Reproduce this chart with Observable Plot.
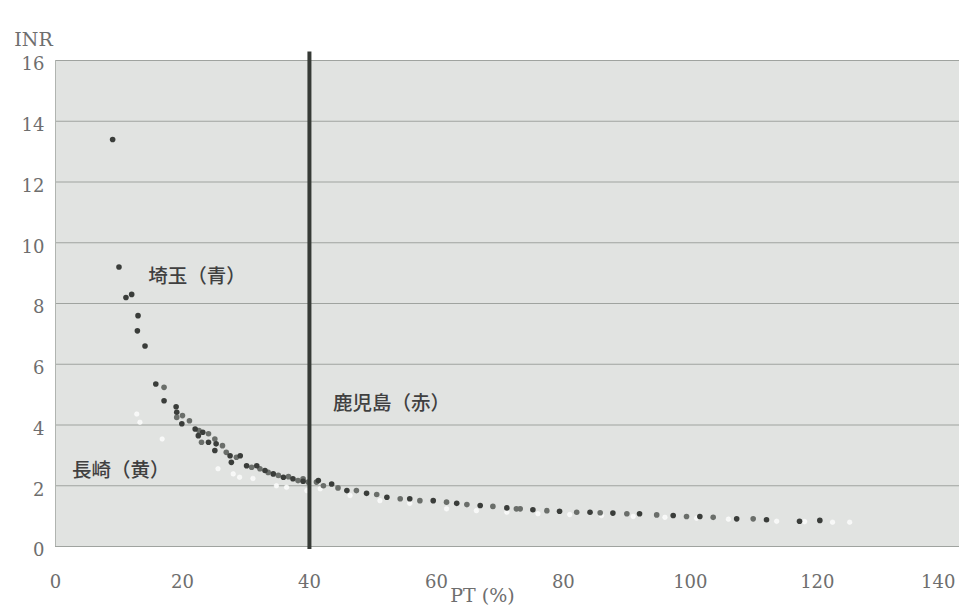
<!DOCTYPE html>
<html>
<head>
<meta charset="utf-8">
<script src="https://cdn.jsdelivr.net/npm/d3@7"></script>
<script src="https://cdn.jsdelivr.net/npm/@observablehq/plot@0.6"></script>
<style>
  html, body { margin: 0; padding: 0; background: #ffffff; }
  #chart { width: 959px; height: 608px; }
</style>
</head>
<body>
<div id="chart"></div>
<script>
// ---- Data ----
const xTicks = [0, 20, 40, 60, 80, 100, 120, 140];
const yTicks = [0, 2, 4, 6, 8, 10, 12, 14, 16];
const cutoffPT = [40];

const seriesNames = ["埼玉（青）", "鹿児島（赤）", "長崎（黄）"];

// 埼玉 (blue) – darkest points
const ptSaitama  = [9.0, 10.0, 11.1, 12.0, 12.9, 13.0, 14.1, 15.8, 17.1, 19.0, 19.1, 19.9, 22.0, 22.5, 23.2, 24.1, 25.1, 25.3, 27.5, 27.7, 29.1, 30.1, 31.7, 33.0, 34.3, 35.9, 37.4, 39.0, 41.4, 43.5, 45.9, 49.0, 52.2, 55.8, 59.5, 63.2, 66.9, 71.1, 75.2, 79.4, 84.2, 87.8, 92.0, 97.3, 101.5, 107.3, 112.0, 117.2, 120.4];
const inrSaitama = [13.4, 9.2, 8.2, 8.3, 7.1, 7.6, 6.6, 5.35, 4.8, 4.6, 4.42, 4.04, 3.87, 3.65, 3.76, 3.43, 3.16, 3.38, 2.99, 2.77, 2.99, 2.66, 2.66, 2.5, 2.39, 2.28, 2.23, 2.15, 2.17, 2.06, 1.84, 1.75, 1.62, 1.57, 1.51, 1.42, 1.35, 1.27, 1.21, 1.16, 1.13, 1.10, 1.08, 1.02, 0.99, 0.91, 0.88, 0.83, 0.86];

// 鹿児島 (red) – mid-grey points
const ptKagoshima  = [17.1, 19.1, 20.0, 21.1, 22.6, 23.0, 24.1, 25.1, 26.3, 26.9, 28.5, 30.9, 32.2, 33.5, 35.1, 36.7, 38.2, 39.0, 39.8, 41.1, 42.2, 44.5, 47.4, 50.6, 54.3, 57.4, 61.6, 64.8, 68.9, 72.6, 73.2, 77.4, 82.1, 85.8, 90.0, 94.7, 99.4, 103.6, 109.9];
const inrKagoshima = [5.24, 4.25, 4.31, 4.14, 3.82, 3.43, 3.71, 3.54, 3.32, 3.10, 2.94, 2.61, 2.56, 2.44, 2.34, 2.30, 2.17, 2.23, 2.12, 2.12, 2.0, 1.93, 1.84, 1.71, 1.57, 1.51, 1.46, 1.38, 1.32, 1.24, 1.24, 1.18, 1.13, 1.11, 1.08, 1.04, 0.99, 0.96, 0.91];

// 長崎 (yellow) – near-white points
const ptNagasaki  = [12.8, 13.3, 16.8, 25.6, 28.0, 29.0, 31.1, 34.8, 36.4, 39.6, 41.7, 46.4, 51.1, 55.8, 61.6, 66.3, 71.1, 76.0, 81.0, 86.0, 91.0, 96.0, 101.0, 106.0, 113.6, 118.0, 122.4, 125.1];
const inrNagasaki = [4.36, 4.09, 3.54, 2.56, 2.39, 2.28, 2.24, 2.0, 1.95, 1.84, 1.90, 1.68, 1.51, 1.42, 1.24, 1.18, 1.13, 1.08, 1.05, 1.02, 0.99, 0.96, 0.93, 0.90, 0.83, 0.82, 0.80, 0.80];

// label anchor values (PT, INR) for the in-chart series labels
const labelPT  = [14.6, 43.7, 2.6];
const labelINR = [8.88, 4.70, 2.50];

// ---- Build tables ----
const toRows = (xs, ys, s) => xs.map((x, i) => ({ pt: x, inr: ys[i], series: s }));
const saitama = toRows(ptSaitama, inrSaitama, seriesNames[0]);
const kagoshima = toRows(ptKagoshima, inrKagoshima, seriesNames[1]);
const nagasaki = toRows(ptNagasaki, inrNagasaki, seriesNames[2]);
const labels = seriesNames.map((s, i) => ({ text: s, pt: labelPT[i], inr: labelINR[i] }));

const serif = "'DejaVu Serif', 'Liberation Serif', serif";
const cjk = "'Noto Sans CJK JP', 'Noto Sans', sans-serif";
const tickColor = "#6e6e6e";
const lastX = xTicks[xTicks.length - 1];

const chart = Plot.plot({
  width: 959,
  height: 608,
  marginLeft: 55,
  marginRight: 0,
  marginTop: 60,
  marginBottom: 62,
  style: { fontFamily: serif, fontSize: "18px", color: tickColor, background: "#ffffff", overflow: "visible" },
  x: { domain: [0, 142.4] },
  y: { domain: [0, 16] },
  marks: [
    Plot.frame({ fill: "#e1e3e1", stroke: null }),
    Plot.gridY(yTicks, { stroke: "#9fa39f", strokeOpacity: 1, strokeWidth: 1.2 }),
    Plot.ruleX([0], { stroke: "#b0b4b0", strokeWidth: 1 }),
    Plot.axisY(yTicks, { tickSize: 0, tickPadding: 11, label: null, dy: 4, fontSize: 18, fill: tickColor }),
    Plot.axisX(xTicks.filter(t => t !== lastX), { tickSize: 0, tickPadding: 29, label: null, fontSize: 18, fill: tickColor }),
    Plot.axisX([lastX], { tickSize: 0, tickPadding: 29, label: null, fontSize: 18, fill: tickColor, dx: -6 }),
    Plot.dot(nagasaki, { x: "pt", y: "inr", r: 2.3, fill: "#f7f8f7", stroke: "#ffffff", strokeWidth: 0.5 }),
    Plot.dot(kagoshima, { x: "pt", y: "inr", r: 2.8, fill: "#6a6e6a" }),
    Plot.dot(saitama, { x: "pt", y: "inr", r: 2.8, fill: "#3a3d3a" }),
    Plot.ruleX(cutoffPT, { y1: 16.28, y2: -0.1, stroke: "#363a36", strokeWidth: 4 }),
    Plot.text(labels, { x: "pt", y: "inr", text: "text", textAnchor: "start", fontFamily: cjk, fontSize: 19.5, fontWeight: 500, fill: "#404040" }),
    Plot.text(["INR"], { frameAnchor: "top-left", dx: -22, dy: -28, textAnchor: "middle", fontSize: 19, fill: tickColor }),
    Plot.text(["PT (%)"], { frameAnchor: "bottom", dx: -25, dy: 55, textAnchor: "middle", fontSize: 19, fill: tickColor })
  ]
});

document.getElementById("chart").appendChild(chart);
</script>
</body>
</html>
